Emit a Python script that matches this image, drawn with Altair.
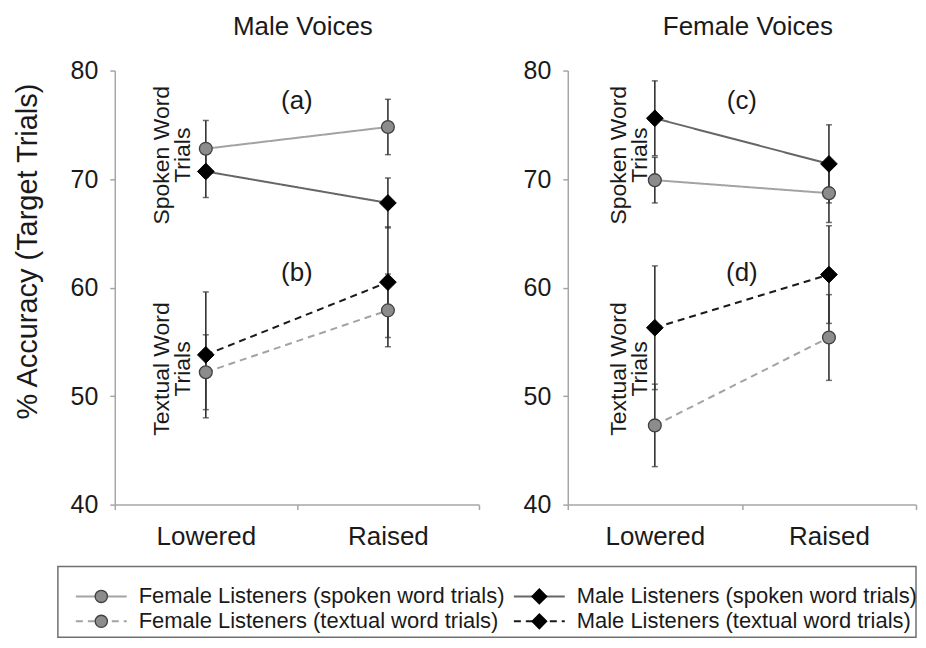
import altair as alt
import pandas as pd

FONT = "Liberation Sans"

voices = ["Male Voices", "Female Voices"]
conditions = ["Lowered", "Raised"]
panel_letters = {"Male Voices": ["(a)", "(b)"], "Female Voices": ["(c)", "(d)"]}

series_names = [
    "Female Listeners (spoken word trials)",
    "Male Listeners (spoken word trials)",
    "Female Listeners (textual word trials)",
    "Male Listeners (textual word trials)",
]
series_listener = ["Female", "Male", "Female", "Male"]
series_trial = ["spoken", "spoken", "textual", "textual"]

# order of values: Male Voices-Lowered, Male Voices-Raised, Female Voices-Lowered, Female Voices-Raised
female_spoken = [72.8, 74.8, 69.9, 68.7]
female_spoken_err = [2.6, 2.55, 2.1, 2.7]
male_spoken = [70.7, 67.8, 75.6, 71.4]
male_spoken_err = [2.4, 2.3, 3.45, 3.6]
female_textual = [52.2, 57.9, 47.3, 55.4]
female_textual_err = [3.45, 3.35, 3.8, 3.95]
male_textual = [53.8, 60.5, 56.3, 61.2]
male_textual_err = [5.8, 5.1, 5.7, 4.5]

means = [female_spoken, male_spoken, female_textual, male_textual]
errs = [female_spoken_err, male_spoken_err, female_textual_err, male_textual_err]

rows = []
for s, name in enumerate(series_names):
    k = 0
    for v in voices:
        for c in conditions:
            rows.append({
                "voice": v, "condition": c, "series": name,
                "listener": series_listener[s], "trial": series_trial[s],
                "mean": means[s][k], "err": errs[s][k],
            })
            k += 1
df = pd.DataFrame(rows)

# annotation text
trial_labels = ["Spoken Word\nTrials", "Textual Word\nTrials"]
trial_label_pos = [72.2, 52.5]
letter_pos = [77.2, 61.3]

line_colors = ["#a3a3a3", "#666666", "#a3a3a3", "#1a1a1a"]
dashes = [[1, 0], [1, 0], [7, 5], [7, 5]]

ydom = [40, 80]
AX_COLOR = "#a6a6a6"


def panel(voice, width, show_title, title_dx, text_dy):
    d = df[df.voice == voice]
    xscale = alt.Scale(type="band", domain=conditions, paddingInner=0, paddingOuter=0)
    yscale = alt.Scale(domain=ydom, nice=False, zero=False)
    xax = alt.Axis(title=None, labelAngle=0, tickBand="extent", labelFontSize=26,
                   labelPadding=14, tickSize=5, domainColor=AX_COLOR, tickColor=AX_COLOR,
                   domainWidth=1.5, tickWidth=1.5, labelColor="#1a1a1a", grid=False)
    yax_kw = dict(values=[40, 50, 60, 70, 80], labelFontSize=25, labelPadding=12,
                  tickSize=5, domainColor=AX_COLOR, tickColor=AX_COLOR, domainWidth=1.5,
                  tickWidth=1.5, labelColor="#1a1a1a", grid=False)
    if show_title:
        yax = alt.Axis(title="% Accuracy (Target Trials)", titleFontSize=29,
                       titleFontWeight="normal", titleColor="#1a1a1a", titlePadding=28,
                       titleY=181, **yax_kw)
    else:
        yax = alt.Axis(title=None, **yax_kw)
    X = alt.X("condition:N", scale=xscale, axis=xax, sort=conditions)
    base = alt.Chart(d).transform_calculate(lo="datum.mean - datum.err", hi="datum.mean + datum.err")

    lines = base.mark_line(strokeWidth=2).encode(
        x=X,
        y=alt.Y("mean:Q", scale=yscale, axis=yax),
        color=alt.Color("series:N", scale=alt.Scale(domain=series_names, range=line_colors), legend=None),
        strokeDash=alt.StrokeDash("series:N", scale=alt.Scale(domain=series_names, range=dashes), legend=None),
    )
    bars = base.mark_rule(color="#333333", strokeWidth=1.6).encode(
        x=X, y=alt.Y("lo:Q", scale=yscale, axis=yax), y2="hi:Q")
    cap_lo = base.mark_tick(color="#333333", thickness=1.5, size=6).encode(
        x=X, y=alt.Y("lo:Q", scale=yscale, axis=yax))
    cap_hi = base.mark_tick(color="#333333", thickness=1.5, size=6).encode(
        x=X, y=alt.Y("hi:Q", scale=yscale, axis=yax))
    circles = base.transform_filter(alt.datum.listener == "Female").mark_point(
        shape="circle", filled=True, size=165, fill="#8c8c8c", stroke="#404040",
        strokeWidth=1.3, opacity=1).encode(x=X, y=alt.Y("mean:Q", scale=yscale, axis=yax))
    diamonds = base.transform_filter(alt.datum.listener == "Male").mark_point(
        shape="diamond", filled=True, size=280, fill="#000000", stroke="#000000",
        strokeWidth=1, opacity=1).encode(x=X, y=alt.Y("mean:Q", scale=yscale, axis=yax))

    ann = pd.DataFrame({"condition": ["Lowered", "Lowered"], "label": trial_labels,
                        "pos": trial_label_pos})
    trial_text = alt.Chart(ann).mark_text(angle=270, fontSize=23, lineHeight=21, dy=text_dy,
                                          align="center", baseline="middle",
                                          lineBreak="\n", color="#1a1a1a").encode(
        x=X, y=alt.Y("pos:Q", scale=yscale, axis=yax), text="label:N")

    let = pd.DataFrame({"letter": panel_letters[voice], "pos": letter_pos})
    letters = alt.Chart(let).mark_text(fontSize=26, color="#1a1a1a", baseline="middle").encode(
        x=alt.value(width / 2), y=alt.Y("pos:Q", scale=yscale, axis=yax), text="letter:N")

    return alt.layer(lines, bars, cap_lo, cap_hi, circles, diamonds, trial_text, letters).properties(
        width=width, height=435,
        title=alt.Title(voice, fontSize=26, fontWeight="normal", anchor="middle",
                        offset=19, dx=title_dx, color="#1a1a1a"),
    )


left = panel("Male Voices", 365, True, 6, -44)
right = panel("Female Voices", 349, False, 6, -36)

# legend built from the series table: listener -> column, trial type -> row
LEG_STEP = 439
LEG_H = 71
SHIFT = -13.5
leg = pd.DataFrame({"series": series_names, "listener": series_listener, "trial": series_trial})
LX = alt.X("listener:N", scale=alt.Scale(type="point", domain=["Female", "Male"], padding=0), axis=None)
LY = alt.Y("trial:N", scale=alt.Scale(type="point", domain=["spoken", "textual"], padding=0.92, align=0.652),
           axis=None)
lbase = alt.Chart(leg)
leg_lines = lbase.mark_rule(strokeWidth=2, xOffset=SHIFT - 25.5, x2Offset=SHIFT + 25.5).encode(
    x=LX, x2=alt.X2("listener:N"), y=LY,
    color=alt.Color("series:N", scale=alt.Scale(domain=series_names,
                                                 range=["#a3a3a3", "#1a1a1a", "#a3a3a3", "#1a1a1a"]), legend=None),
    strokeDash=alt.StrokeDash("series:N", scale=alt.Scale(domain=series_names, range=dashes), legend=None),
)
leg_c = lbase.transform_filter(alt.datum.listener == "Female").mark_point(
    shape="circle", filled=True, size=150, fill="#8c8c8c", stroke="#404040", strokeWidth=1.3,
    opacity=1, xOffset=SHIFT).encode(x=LX, y=LY)
leg_d = lbase.transform_filter(alt.datum.listener == "Male").mark_point(
    shape="diamond", filled=True, size=190, fill="#000000", stroke="#000000", opacity=1,
    xOffset=SHIFT).encode(x=LX, y=LY)
leg_t = lbase.mark_text(align="left", baseline="middle", dx=SHIFT + 37.5, fontSize=22,
                        color="#1a1a1a").encode(x=LX, y=LY, text="series:N")
box = alt.Chart(pd.DataFrame({"frame": [0]})).mark_rect(
    fillOpacity=0, stroke="#707070", strokeWidth=1.5).encode(
    x=alt.value(-57), x2=alt.value(803), y=alt.value(0), y2=alt.value(LEG_H))
legend = alt.layer(box, leg_lines, leg_c, leg_d, leg_t).properties(width=LEG_STEP, height=LEG_H)

top = alt.hconcat(left, right, spacing=43)
chart = alt.vconcat(top, legend, spacing=16).properties(
    padding={"left": 5, "top": 5, "right": 0, "bottom": 0}
).configure(font=FONT).configure_view(strokeWidth=0)

chart.save("out.html", embed_options={"renderer": "svg", "actions": False})
